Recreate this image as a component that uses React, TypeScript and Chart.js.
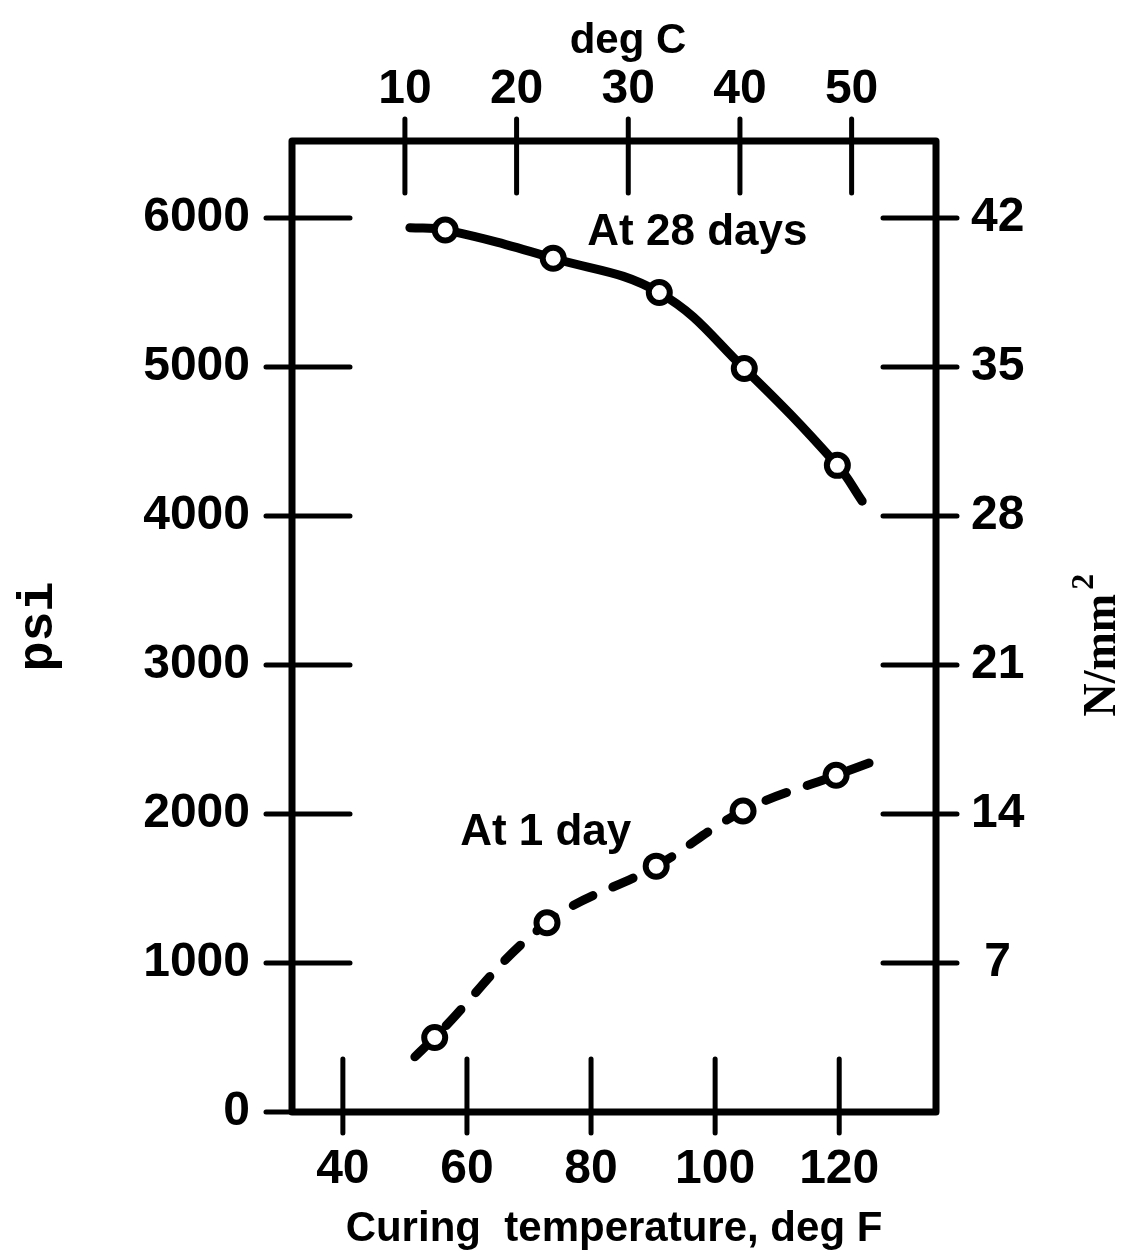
import React, { useEffect, useRef } from 'react';
import { Chart, registerables } from 'chart.js';

Chart.register(...registerables);

// ---- Data ----
// Compressive strength at 28 days (psi) vs curing temperature (deg F)
const tempF28 = [56.5, 73.9, 91.0, 104.7, 119.7];
const psi28 = [5920, 5730, 5500, 4990, 4340];
const curve28Start = { x: 50.8, y: 5935 };
const curve28End = { x: 123.7, y: 4100 };

// Compressive strength at 1 day (psi)
const tempF1 = [54.8, 72.9, 90.5, 104.5, 119.5];
const psi1 = [500, 1270, 1650, 2020, 2260];
const curve1Start = { x: 51.6, y: 370 };
const curve1End = { x: 126.0, y: 2360 };

// Tick labels
const degFTicks = [40, 60, 80, 100, 120];
const degCTicks = [10, 20, 30, 40, 50];
const psiTicks = [0, 1000, 2000, 3000, 4000, 5000, 6000];
const nmmTicks = [7, 14, 21, 28, 35, 42];

// Axis ranges
const fMin = 31.8;
const fMax = 135.6;
const psiMin = 0;
const psiMax = 6517;
const psiToNmm = 7 / 1000;

// In-plot labels (data coordinates)
const curveLabels = ['At 28 days', 'At 1 day'];
const curveLabelF = [79.4, 58.9];
const curveLabelPsi = [5819, 1792];

const SANS = "'Liberation Sans', 'DejaVu Sans', sans-serif";

const toPoints = (xs: number[], ys: number[]) => xs.map((x, i) => ({ x, y: ys[i] }));

const framePlugin = {
  id: 'framePlugin',
  beforeDatasetsDraw(chart: any) {
    const { ctx, chartArea: a, scales } = chart;
    ctx.save();
    ctx.strokeStyle = '#000';
    ctx.lineCap = 'round';
    ctx.lineWidth = 5;
    ctx.beginPath();
    psiTicks.forEach((v) => {
      const y = scales.y.getPixelForValue(v);
      ctx.moveTo(a.left - 26, y);
      ctx.lineTo(a.left + 58, y);
    });
    nmmTicks.forEach((v) => {
      const y = scales.y2.getPixelForValue(v);
      ctx.moveTo(a.right - 53, y);
      ctx.lineTo(a.right + 21, y);
    });
    degFTicks.forEach((v) => {
      const x = scales.x.getPixelForValue(v);
      ctx.moveTo(x, a.bottom - 53);
      ctx.lineTo(x, a.bottom + 21);
    });
    degCTicks.forEach((v) => {
      const x = scales.x2.getPixelForValue(v);
      ctx.moveTo(x, a.top - 22);
      ctx.lineTo(x, a.top + 52);
    });
    ctx.stroke();
    ctx.lineWidth = 7;
    ctx.lineJoin = 'round';
    ctx.strokeRect(a.left, a.top, a.right - a.left, a.bottom - a.top);
    ctx.restore();
  },
  afterDatasetsDraw(chart: any) {
    const { ctx, chartArea: a, scales } = chart;
    ctx.save();
    ctx.fillStyle = '#000';
    ctx.font = `bold 44px ${SANS}`;
    ctx.textAlign = 'left';
    ctx.textBaseline = 'alphabetic';
    curveLabels.forEach((t, i) => {
      ctx.fillText(t, scales.x.getPixelForValue(curveLabelF[i]), scales.y.getPixelForValue(curveLabelPsi[i]));
    });
    // top axis title, slightly right of centre as in the reference
    ctx.textAlign = 'center';
    ctx.font = `bold 42px ${SANS}`;
    ctx.fillText('deg C', (a.left + a.right) / 2 + 14, 53);
    // right axis title, reading bottom-to-top
    ctx.textAlign = 'left';
    const cx = scales.y2.right - 13;
    const cy = (a.top + a.bottom) / 2 + 90;
    ctx.translate(cx, cy);
    ctx.rotate(-Math.PI / 2);
    ctx.font = "bold 46px 'Liberation Serif', 'DejaVu Serif', serif";
    ctx.fillText('N/mm', 0, 0);
    const w = ctx.measureText('N/mm').width;
    ctx.font = "bold 32px 'Liberation Serif', 'DejaVu Serif', serif";
    ctx.fillText('2', w + 4, -22);
    ctx.restore();
  },
};

export default function App() {
  const ref = useRef<HTMLCanvasElement | null>(null);

  useEffect(() => {
    if (!ref.current) return;
    const tickFont = { family: SANS, size: 48, weight: 'bold' as const };
    const noGrid = { display: false, drawTicks: false };
    const plain = (v: any) => String(v);
    const chart = new Chart(ref.current, {
      type: 'line',
      data: {
        datasets: [
          {
            label: '28 days points',
            data: toPoints(tempF28, psi28),
            showLine: false,
            pointRadius: 10.5,
            pointBorderWidth: 6,
            pointBackgroundColor: '#fff',
            pointBorderColor: '#000',
            order: 0,
          },
          {
            label: '1 day points',
            data: toPoints(tempF1, psi1),
            showLine: false,
            pointRadius: 10.5,
            pointBorderWidth: 6,
            pointBackgroundColor: '#fff',
            pointBorderColor: '#000',
            order: 0,
          },
          {
            label: '28 days curve',
            data: [curve28Start, ...toPoints(tempF28, psi28), curve28End],
            borderColor: '#000',
            borderWidth: 9,
            borderCapStyle: 'round',
            borderJoinStyle: 'round',
            tension: 0.4,
            pointRadius: 0,
            fill: false,
            order: 1,
          },
          {
            label: '1 day curve',
            data: [curve1Start, ...toPoints(tempF1, psi1), curve1End],
            borderColor: '#000',
            borderWidth: 9,
            borderDash: [22, 22],
            borderCapStyle: 'round',
            borderJoinStyle: 'round',
            tension: 0.4,
            pointRadius: 0,
            fill: false,
            order: 1,
          },
        ],
      },
      options: {
        animation: false,
        responsive: false,
        devicePixelRatio: 1,
        layout: { padding: 0 },
        plugins: { legend: { display: false }, tooltip: { enabled: false } },
        scales: {
          x: {
            type: 'linear',
            position: 'bottom',
            min: fMin,
            max: fMax,
            grid: noGrid,
            border: { display: false },
            afterBuildTicks: (s: any) => { s.ticks = degFTicks.map((v) => ({ value: v })); },
            afterFit: (s: any) => { s.height = 1258 - 1112; },
            ticks: { font: tickFont, color: '#000', padding: 29, maxRotation: 0, autoSkip: false, callback: plain },
            title: {
              display: true,
              text: 'Curing  temperature, deg F',
              color: '#000',
              font: { family: SANS, size: 42, weight: 'bold' },
              padding: { top: 0, bottom: 3 },
            },
          },
          x2: {
            type: 'linear',
            position: 'top',
            min: (fMin - 32) / 1.8,
            max: (fMax - 32) / 1.8,
            grid: noGrid,
            border: { display: false },
            afterBuildTicks: (s: any) => { s.ticks = degCTicks.map((v) => ({ value: v })); },
            afterFit: (s: any) => { s.height = 141; },
            ticks: { font: tickFont, color: '#000', padding: 22, maxRotation: 0, autoSkip: false, callback: plain },
          },
          y: {
            type: 'linear',
            position: 'left',
            min: psiMin,
            max: psiMax,
            grid: noGrid,
            border: { display: false },
            afterBuildTicks: (s: any) => { s.ticks = psiTicks.map((v) => ({ value: v })); },
            afterFit: (s: any) => { s.width = 292; },
            ticks: { font: tickFont, color: '#000', padding: 42, autoSkip: false, callback: plain },
            title: {
              display: true,
              text: 'psi',
              color: '#000',
              font: { family: "'Liberation Mono', 'DejaVu Sans Mono', monospace", size: 50, weight: 'bold' },
              padding: { top: 9, bottom: 0 },
            },
          },
          y2: {
            type: 'linear',
            position: 'right',
            min: psiMin * psiToNmm,
            max: psiMax * psiToNmm,
            grid: noGrid,
            border: { display: false },
            afterBuildTicks: (s: any) => { s.ticks = nmmTicks.map((v) => ({ value: v })); },
            afterFit: (s: any) => { s.width = 1128 - 936; },
            ticks: { font: tickFont, color: '#000', padding: 35, crossAlign: 'center', autoSkip: false, callback: plain },
          },
        },
      },
      plugins: [framePlugin],
    } as any);
    return () => chart.destroy();
  }, []);

  return (
    <div style={{ position: 'absolute', left: 0, top: 0, width: 1128, height: 1258, background: '#fff' }}>
      <canvas ref={ref} width={1128} height={1258} style={{ display: 'block', width: 1128, height: 1258 }} />
    </div>
  );
}
